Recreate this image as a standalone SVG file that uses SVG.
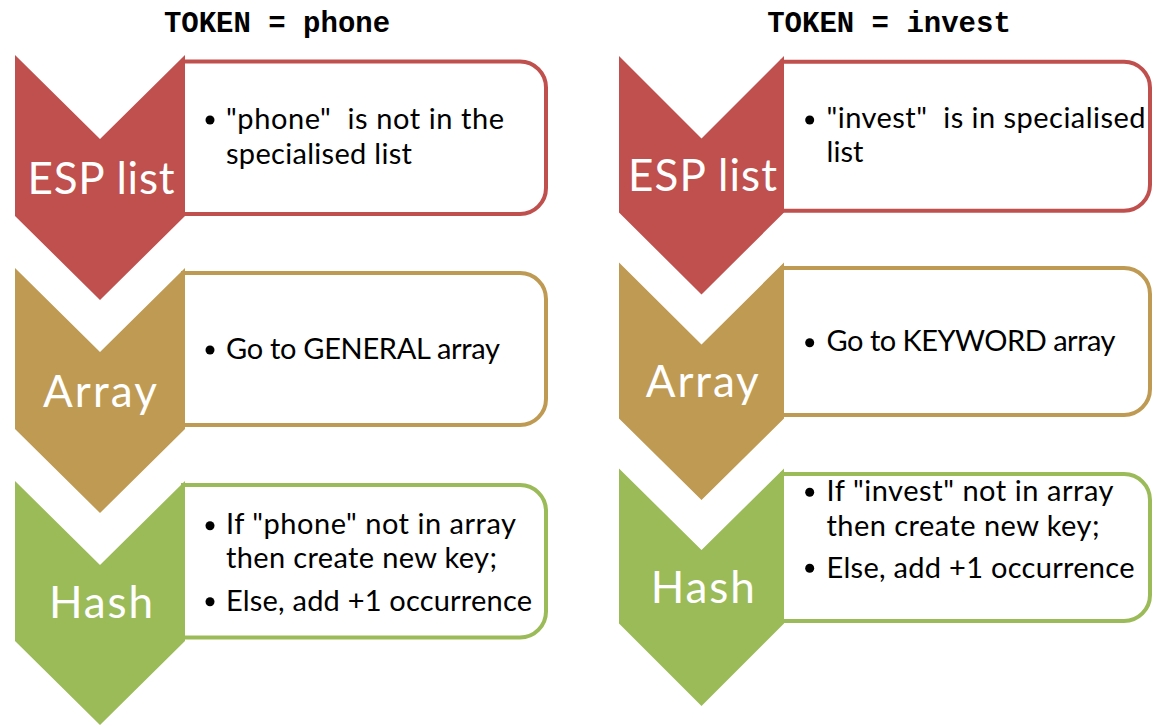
<svg xmlns="http://www.w3.org/2000/svg" width="1156" height="727" viewBox="0 0 1156 727">
  <style>
    .title { font-family: "Liberation Mono", "Courier New", monospace; font-weight: bold; font-size: 29px; fill: #000; text-anchor: middle; }
    .label { font-family: Lato, "Open Sans", sans-serif; font-size: 44px; fill: #fff; text-anchor: middle; }
    .body { font-family: Lato, "Open Sans", sans-serif; font-size: 29px; fill: #000; }
    .bullet { fill: #000; }
    .box { fill: #fff; stroke-width: 4; }
    .red .chev { fill: #C0504D; }
    .red .box { stroke: #C0504D; }
    .tan .chev { fill: #BF9A53; }
    .tan .box { stroke: #BF9A53; }
    .green .chev { fill: #9BBB59; }
    .green .box { stroke: #9BBB59; }
  </style>
  <rect width="1156" height="727" fill="#fff"/>

  <!-- column headings -->
  <text class="title" x="277" y="32">TOKEN = phone</text>
  <text class="title" x="889" y="32">TOKEN = invest</text>

  <!-- left column: phone -->
  <g id="phone-esp" class="red">
    <path class="box" d="M183,61.5 H520 A26,26 0 0 1 546,87.5 V188 A26,26 0 0 1 520,214 H183 Z"/>
    <path class="chev" d="M15,55 L100,139 L185,55 V216 L100,300 L15,216 Z"/>
    <text class="label" x="101" y="194" textLength="147">ESP list</text>
    <circle class="bullet" cx="210" cy="120" r="4.5"/>
    <text class="body" x="226" y="129.3" xml:space="preserve" textLength="278">"phone"  is not in the</text>
    <text class="body" x="226" y="164" textLength="186">specialised list</text>
  </g>
  <g id="phone-array" class="tan">
    <path class="box" d="M183,273 H520 A26,26 0 0 1 546,299 V399 A26,26 0 0 1 520,425 H183 Z"/>
    <path class="chev" d="M15,268 L100,352 L185,268 V429 L100,513 L15,429 Z"/>
    <text class="label" x="100" y="406.7" textLength="114">Array</text>
    <circle class="bullet" cx="210" cy="350" r="4.5"/>
    <text class="body" x="226" y="359.3" textLength="274">Go to GENERAL array</text>
  </g>
  <g id="phone-hash" class="green">
    <path class="box" d="M183,485 H520 A26,26 0 0 1 546,511 V611.5 A26,26 0 0 1 520,637.5 H183 Z"/>
    <path class="chev" d="M15,481 L100,565 L185,481 V641 L100,725 L15,641 Z"/>
    <text class="label" x="101" y="617.7" textLength="104">Hash</text>
    <circle class="bullet" cx="210" cy="525.7" r="4.5"/>
    <text class="body" x="226" y="534.3" textLength="290">If "phone" not in array</text>
    <text class="body" x="226" y="568.3" textLength="271">then create new key;</text>
    <circle class="bullet" cx="210" cy="601.7" r="4.5"/>
    <text class="body" x="226" y="610.7" textLength="306">Else, add +1 occurrence</text>
  </g>

  <!-- right column: invest -->
  <g id="invest-esp" class="red">
    <path class="box" d="M782,61.7 H1124 A26,26 0 0 1 1150,87.7 V184.7 A26,26 0 0 1 1124,210.7 H782 Z"/>
    <path class="chev" d="M619,56 L701.5,138.5 L784,56 V212.5 L701.5,294.5 L619,212.5 Z"/>
    <text class="label" x="702.5" y="190.7" textLength="149">ESP list</text>
    <circle class="bullet" cx="809.7" cy="120" r="4.5"/>
    <text class="body" x="826.5" y="128.3" xml:space="preserve" textLength="319">"invest"  is in specialised</text>
    <text class="body" x="826.5" y="162.3" textLength="37">list</text>
  </g>
  <g id="invest-array" class="tan">
    <path class="box" d="M782,268 H1124 A26,26 0 0 1 1150,294 V389 A26,26 0 0 1 1124,415 H782 Z"/>
    <path class="chev" d="M619,262.5 L701.5,344.5 L784,262.5 V418.5 L701.5,500 L619,418.5 Z"/>
    <text class="label" x="702.3" y="397.3" textLength="113">Array</text>
    <circle class="bullet" cx="809.7" cy="342.7" r="4.5"/>
    <text class="body" x="826.5" y="350.7" textLength="289">Go to KEYWORD array</text>
  </g>
  <g id="invest-hash" class="green">
    <path class="box" d="M782,474 H1124 A26,26 0 0 1 1150,500 V595 A26,26 0 0 1 1124,621 H782 Z"/>
    <path class="chev" d="M619,468.5 L701.5,550 L784,468.5 V623.5 L701.5,706 L619,623.5 Z"/>
    <text class="label" x="702.8" y="603.3" textLength="104">Hash</text>
    <circle class="bullet" cx="809.7" cy="492.3" r="4.5"/>
    <text class="body" x="826.5" y="500.7" textLength="287">If "invest" not in array</text>
    <text class="body" x="826.5" y="535.7" textLength="273">then create new key;</text>
    <circle class="bullet" cx="809.7" cy="568.3" r="4.5"/>
    <text class="body" x="826.5" y="577.7" textLength="308">Else, add +1 occurrence</text>
  </g>
</svg>
